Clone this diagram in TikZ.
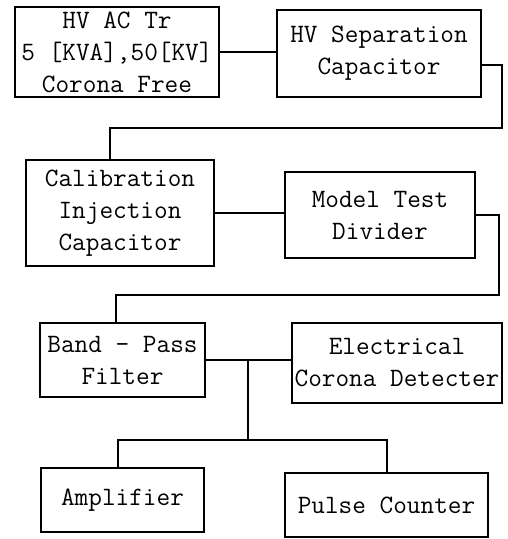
\documentclass[tikz,border=0pt]{standalone}
\usepackage{tikz}
\pgfdeclarelayer{edgelayer}
\pgfdeclarelayer{nodelayer}
\pgfsetlayers{edgelayer,nodelayer,main}
\tikzstyle{wire}=[draw=black, line width=1.4pt]
\tikzstyle{block}=[rectangle, draw=black, fill=white, line width=1.4pt, align=center, inner sep=0pt, font=\fontsize{26.5}{32}\ttfamily]

\begin{document}
\begin{tikzpicture}[x=1pt, y=-1pt]
				\useasboundingbox (0, 0) rectangle (508, 539);
				\begin{pgfonlayer}{nodelayer}
					\node [style=block, minimum width=204pt, minimum height=90pt] (0) at (117, 52) {HV AC Tr\\5 [KVA],50[KV]\\Corona Free};
					\node [style=block, minimum width=204pt, minimum height=87pt] (1) at (379, 53.5) {HV Separation\\Capacitor};
					\node [style=block, minimum width=188pt, minimum height=106pt] (2) at (120, 213) {Calibration\\Injection\\Capacitor};
					\node [style=block, minimum width=190pt, minimum height=86pt] (3) at (380, 215) {Model Test\\Divider};
					\node [style=block, minimum width=165pt, minimum height=74pt] (4) at (122.5, 360) {Band - Pass\\Filter};
					\node [style=block, minimum width=210pt, minimum height=80pt] (5) at (397, 363) {Electrical\\Corona Detecter};
					\node [style=block, minimum width=163pt, minimum height=64pt] (6) at (122.5, 500) {Amplifier};
					\node [style=block, minimum width=203pt, minimum height=64pt] (7) at (386.5, 505) {Pulse Counter};
				\end{pgfonlayer}
				\coordinate (a) at (502, 65);
				\coordinate (b) at (502, 128);
				\coordinate (c) at (110, 128);
				\coordinate (d) at (499, 215);
				\coordinate (e) at (499, 295);
				\coordinate (f) at (116, 295);
				\coordinate (j) at (248, 360);
				\coordinate (k) at (248, 440);
				\coordinate (l) at (118, 440);
				\coordinate (m) at (387, 440);
				\begin{pgfonlayer}{edgelayer}
					\draw [style=wire] (0.east) to (0.east -| 1.west);
					\draw [style=wire] (1.east |- a) -- (a) -- (b) -- (c) -- (c |- 2.north);
					\draw [style=wire] (2.east) to (2.east -| 3.west);
					\draw [style=wire] (3.east |- d) -- (d) -- (e) -- (f) -- (f |- 4.north);
					\draw [style=wire] (4.east) to (4.east -| 5.west);
					\draw [style=wire] (j) to (k);
					\draw [style=wire] (l |- 6.north) -- (l) -- (m) -- (m |- 7.north);
				\end{pgfonlayer}
			\end{tikzpicture}
\end{document}
